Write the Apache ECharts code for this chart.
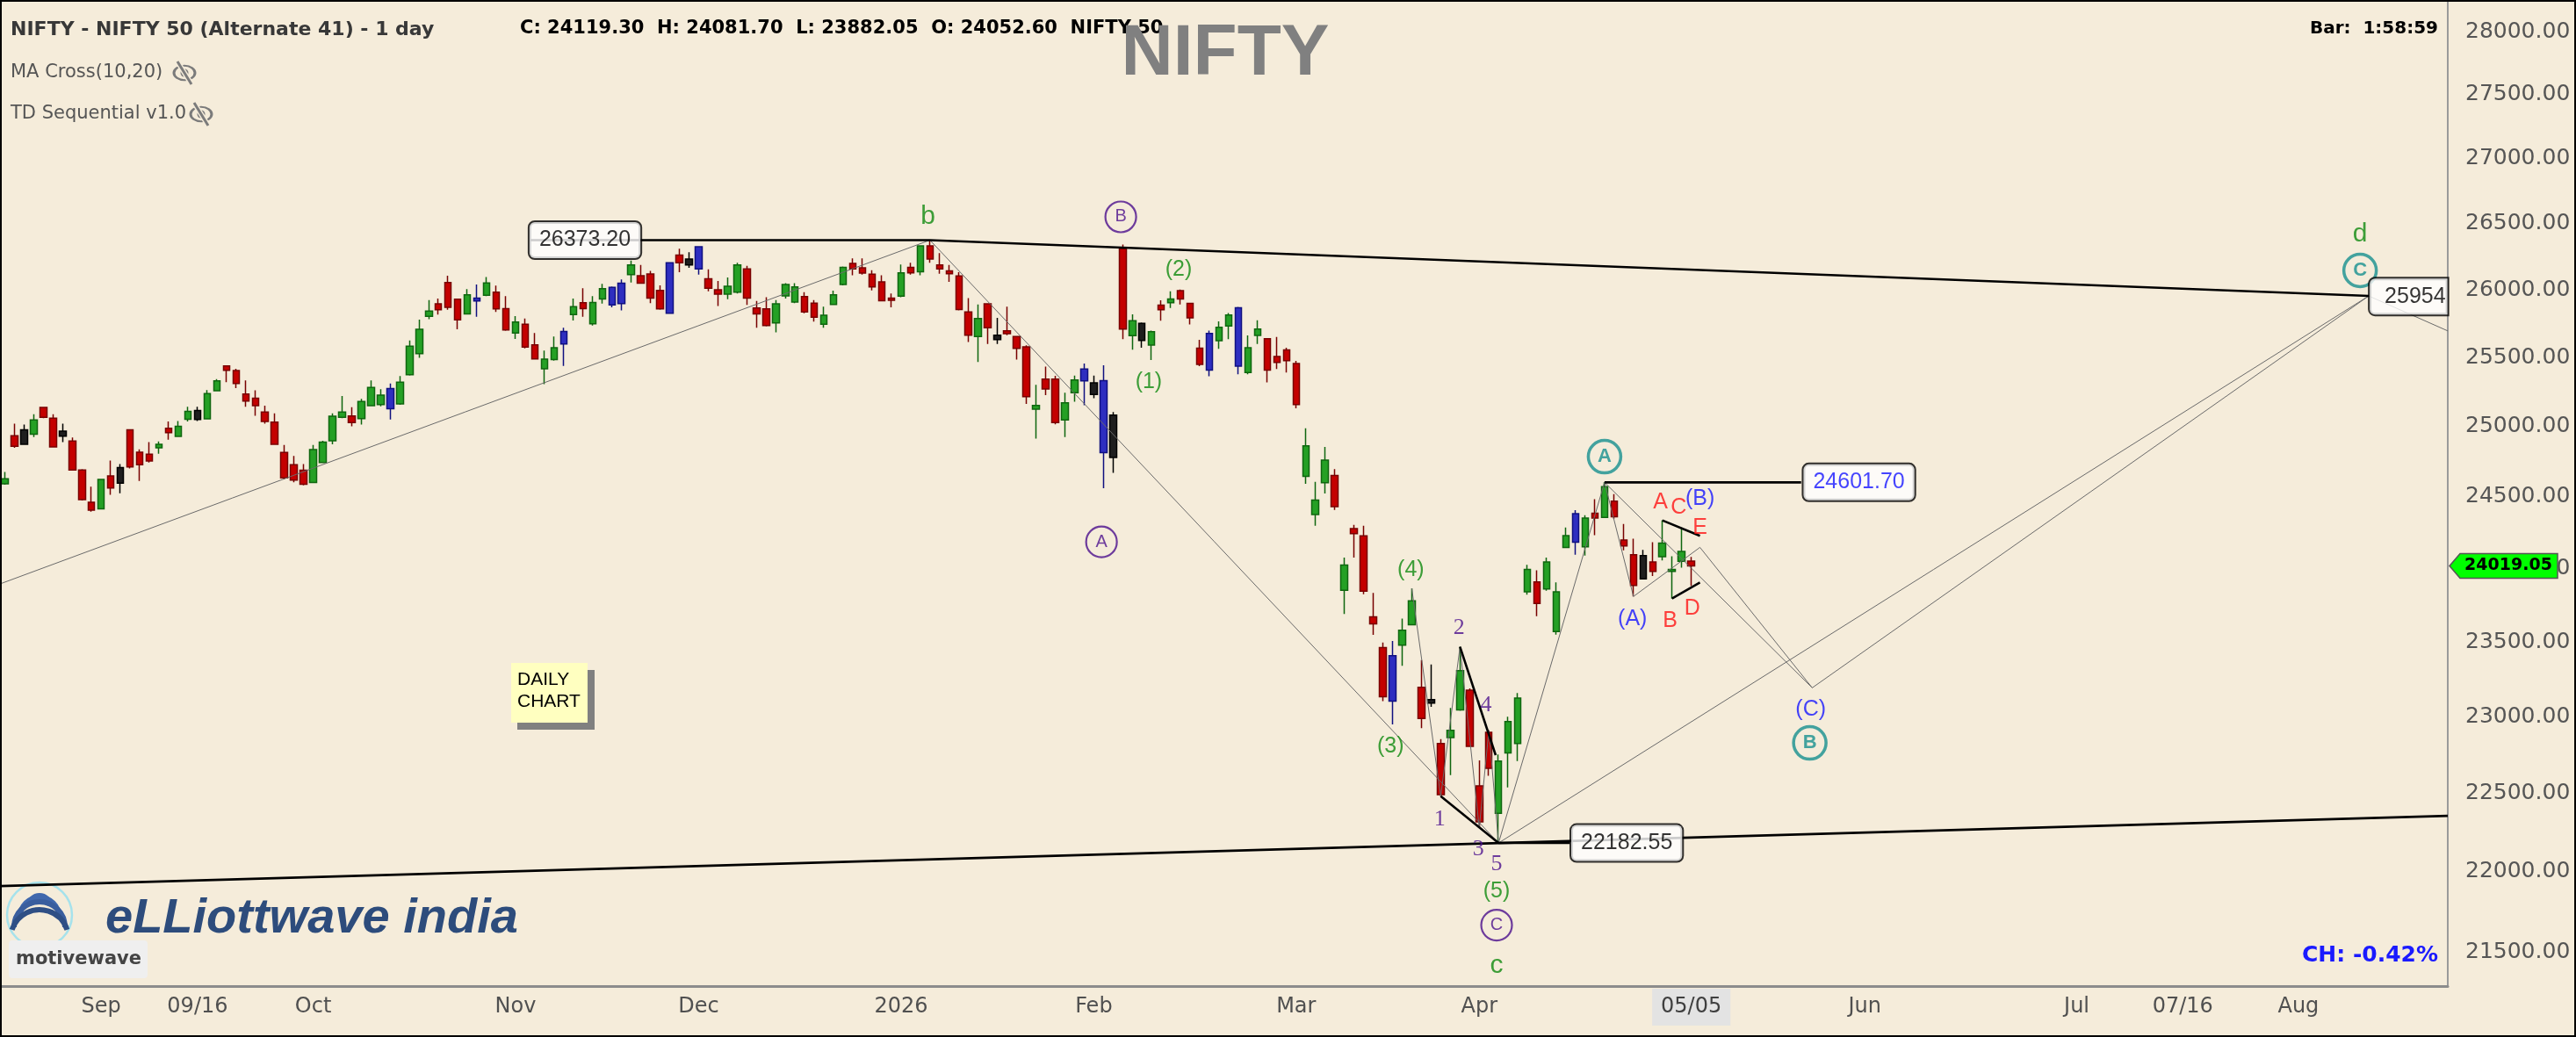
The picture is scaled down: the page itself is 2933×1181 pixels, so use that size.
<!DOCTYPE html>
<html><head><meta charset="utf-8">
<script src="https://cdn.jsdelivr.net/npm/echarts@6/dist/echarts.min.js"></script>
<style>html,body{margin:0;padding:0;background:#f5ecda;}#c{width:2933px;height:1181px;}</style>
</head><body><div id="c"></div>
<script>
// ---------- data ----------
const slotCount = 254;
const xTickLabels = [[10,'Sep'],[20,'09/16'],[32,'Oct'],[53,'Nov'],[72,'Dec'],[93,'2026'],[113,'Feb'],[134,'Mar'],[153,'Apr'],[175,'05/05'],[193,'Jun'],[215,'Jul'],[226,'07/16'],[238,'Aug']];
const yTicks = [21500,22000,22500,23000,23500,24000,24500,25000,25500,26000,26500,27000,27500,28000];
const yRange = [21290, 28241];
const opens = [24591,24934,24976,24945,25137,25060,24966,24895,24690,24462,
24416,24648,24597,24976,24816,24801,24847,24986,24928,25052,
25050,25054,25257,25438,25404,25233,25204,25104,25031,24814,
24726,24688,24601,24742,24897,25065,25075,25056,25149,25158,
25128,25162,25374,25528,25802,25895,26055,25930,25821,25917,
25960,25982,25860,25679,25744,25593,25417,25485,25599,25815,
25904,25747,25932,25887,25897,26113,26105,26118,25995,25826,
26260,26186,26157,26083,26000,25967,25982,26157,25865,25858,
25754,25954,25908,25949,25901,25744,25890,26040,26197,26164,
26116,26060,25938,25952,26168,26135,26330,26186,26142,26103,
25836,25653,25895,25663,25696,25653,25578,25124,25342,25342,
25046,25243,25329,25315,25331,24778,26309,25660,25751,25590,
25886,25904,25994,25899,25568,25408,25623,25732,25867,25390,
25661,25637,25507,25555,25456,24644,24375,24600,24651,23851,
24277,24227,23671,23462,23408,23478,23616,23196,23114,22825,
22864,23047,23177,22549,22898,22373,22764,22825,23841,23909,
23861,23570,24147,24183,24151,24385,24355,24469,24198,24096,
23929,24046,24083,23981,24050,24052.6];
const closes = [24628,24858,24872,25046,25065,24853,24930,24690,24480,24406,
24622,24562,24707,24711,24726,24753,24872,24955,25001,25109,
25115,25236,25329,25406,25310,25183,25149,25035,24872,24634,
24618,24589,24834,24888,25073,25104,25027,25179,25281,25225,
25274,25319,25583,25707,25841,25851,25869,25776,25962,25938,
26051,25858,25702,25761,25576,25489,25487,25571,25691,25874,
25860,25906,26008,26018,26049,26186,26049,25938,25858,26202,
26202,26231,26323,26011,25967,26026,26186,25938,25821,25735,
25895,26040,26022,25836,25796,25811,25962,26168,26157,26125,
26022,25919,25921,26127,26127,26330,26231,26157,26120,25854,
25663,25787,25718,25631,25674,25567,25214,25151,25270,25028,
25170,25336,25416,25230,24812,25081,25709,25770,25625,25689,
25851,25931,25931,25791,25449,25677,25722,25813,25436,25571,
25709,25408,25464,25477,25158,24861,24477,24760,24431,24025,
24242,23846,23623,23134,23105,23580,23779,22989,23091,22492,
22912,23307,22806,22318,22663,22711,22969,23125,23995,23761,
24046,23841,24228,24381,24351,24351,24572,24361,24157,23885,
24090,23981,24177,23995,24119.3,24019.05];
const lows = [24585,24847,24867,24924,25060,24851,24888,24684,24474,24396,
24412,24515,24525,24701,24612,24742,24805,24905,24924,25035,
25039,25052,25255,25319,25276,25141,25077,25020,24867,24622,
24603,24580,24596,24738,24872,25060,25001,25014,25145,25145,
25050,25156,25368,25498,25782,25815,25851,25707,25815,25800,
25952,25836,25696,25636,25567,25485,25306,25476,25438,25772,
25800,25735,25897,25869,25847,26055,26044,25901,25851,25821,
26131,26164,26113,25989,25880,25930,25973,25887,25718,25728,
25685,25934,25901,25826,25763,25718,25887,26033,26109,26113,
25995,25913,25869,25945,26113,26109,26202,26120,26060,25847,
25614,25466,25599,25599,25663,25485,25162,24913,25225,25015,
24924,25178,25152,25204,24561,24669,25635,25557,25571,25481,
25770,25864,25891,25742,25436,25363,25564,25635,25377,25377,
25598,25318,25416,25390,25131,24592,24298,24523,24408,23689,
24077,23825,23548,23105,22950,23340,23612,22926,23066,22482,
22619,23040,22802,22280,22615,22182.55,22539,22711,23821,23675,
23849,23550,24143,24096,24090,24232,24351,24347,24126,23809,
23925,23949,24056,23795,24006,23882.05];
const highs = [24676,25020,25014,25087,25141,25087,25020,24920,24695,24572,
24628,24757,24732,24980,24836,24888,24892,25035,25039,25141,
25141,25263,25342,25443,25417,25332,25261,25149,25094,24867,
24789,24732,24867,24897,25094,25219,25139,25198,25332,25268,
25310,25364,25625,25778,25923,25934,26105,25934,26005,26039,
26096,26031,25952,25804,25787,25679,25550,25653,25718,25934,
26011,25952,26044,26025,26077,26219,26186,26142,26033,26206,
26308,26282,26325,26153,26066,26092,26202,26179,25917,25945,
25923,26049,26049,25982,25923,25874,25993,26175,26236,26236,
26146,26109,25973,26190,26202,26334,26373.2,26275,26186,26131,
25938,25890,25901,25791,25874,25657,25589,25300,25433,25366,
25243,25368,25456,25368,25443,25104,26340,25818,25757,25697,
25921,25989,26002,25904,25629,25697,25765,25827,25872,25661,
25773,25640,25651,25571,25475,24986,24605,24854,24696,24077,
24303,24298,23833,23497,23507,23659,23865,23379,23349,22854,
23060,23468,23189,22715,22912,22753,23002,23158,24026,23989,
24076,23905,24285,24406,24371,24484,24601.7,24519,24309,24208,
24130,24183,24335,24086,24285,24081.7];
const blueBars = [41,50,59,64,65,70,73,113,115,126,129,145,164];
const blackBars = [3,7,13,21,72,104,114,116,119,149,171];
const lastPrice = 24019.05;

// wave / trend lines: [slotIndex, price]
const waveLinesThin = [
  [[-0.5,23895],[96,26373.2]],
  [[96,26373.2],[155,22182.55]],
  [[155,22182.55],[166,24601.7]],
  [[155,22182.55],[245.3,25954]],
  [[166,24601.7],[169,23809],[175.9,24147],[187.55,23193],[245.3,25954]],
  [[166,24601.7],[187.55,23193]],
  [[245.3,25954],[253.5,25695]],
  [[146,23865],[149,22482],[151,23468],[153,22280],[154,22912],[155,22182.55]]
];
const trendLinesThick = [
  [[54.5,26373.2],[96,26373.2],[245.3,25954]],
  [[-0.5,21910],[253.5,22356]],
  [[155,22182.55],[162.4,22182.55]],
  [[166,24601.7],[186.4,24601.7]],
  [[149,22482],[155,22182.55]],
  [[151,23468],[154.7,22749]],
  [[172,24335],[175.9,24227]],
  [[173,23795],[175.9,23905]]
];
const GREEN='#0e8a0e', PURPLE='#4b0f8c', TEAL='#16908e', RED='#ff1414', BLUE='#1515ff';
const waveTexts = [
  ['b',95.8,26550,GREEN,30,'Liberation Sans'],
  ['(2)',121.8,26151,GREEN,25,'Liberation Sans'],
  ['(1)',118.7,25321,GREEN,25,'Liberation Sans'],
  ['(4)',145.9,23991,GREEN,25,'Liberation Sans'],
  ['(3)',143.8,22806,GREEN,25,'Liberation Sans'],
  ['(5)',154.8,21875,GREEN,25,'Liberation Sans'],
  ['c',154.8,21417,GREEN,30,'Liberation Sans'],
  ['d',244.4,26416,GREEN,30,'Liberation Sans'],
  ['1',148.9,22332,PURPLE,26,'Liberation Serif'],
  ['2',150.9,23595,PURPLE,26,'Liberation Serif'],
  ['3',152.9,22141,PURPLE,26,'Liberation Serif'],
  ['4',153.7,23078,PURPLE,26,'Liberation Serif'],
  ['5',154.8,22048,PURPLE,26,'Liberation Serif'],
  ['(A)',168.9,23655,BLUE,25,'Liberation Sans'],
  ['(B)',175.9,24484,BLUE,25,'Liberation Sans'],
  ['(C)',187.4,23048,BLUE,25,'Liberation Sans'],
  ['A',171.8,24463,RED,25,'Liberation Sans'],
  ['C',173.7,24422,RED,25,'Liberation Sans'],
  ['E',175.9,24285,RED,25,'Liberation Sans'],
  ['B',172.8,23641,RED,25,'Liberation Sans'],
  ['D',175.1,23725,RED,25,'Liberation Sans']
];
const circledTexts = [
  ['B',115.8,26550,PURPLE],
  ['A',113.8,24185,PURPLE],
  ['C',154.8,21666,PURPLE],
  ['A',166.0,24784,TEAL],
  ['B',187.3,22829,TEAL],
  ['C',244.4,26145,TEAL]
];
const priceBoxes = [
  ['26373.20',60.2,26373.2,'#000'],
  ['22182.55',168.3,22182.55,'#000'],
  ['24601.70',192.4,24601.7,BLUE]
];
const edgeBox = ['25954',245.4,25950];

// ---------- build ----------
const L = Math.log;
const BG = '#f5ecda';
const categories = Array.from({length: slotCount}, (_, i) => String(i));
const labelMap = {}; xTickLabels.forEach(([i, t]) => { labelMap[i] = t; });

const UP=['#25a025','#0f660f'], DN=['#c40000','#780000'], BL=['#2e2ec0','#101080'], BK=['#1e1e1e','#000000'];
const candleData = opens.map((o, i) => {
  const n = i + 1;
  const v = [o, closes[i], lows[i], highs[i]].map(L);
  let c = null;
  if (blueBars.includes(n)) c = BL; else if (blackBars.includes(n)) c = BK;
  if (c) return {value: v, itemStyle: {color: c[0], color0: c[0], borderColor: c[1], borderColor0: c[1]}};
  return v;
});

function lineSeries(pts, color, width, z) {
  return {type:'line', xAxisIndex:1, yAxisIndex:0, data: pts.map(p => [p[0], L(p[1])]),
    symbol:'none', showSymbol:false, silent:true, z:z, animation:false,
    lineStyle:{color:color, width:width}, emphasis:{disabled:true}};
}

const labelItems = [];
waveTexts.forEach(([t,x,p,c,s,f]) => labelItems.push({value:[x,L(p)], symbolSize:0,
  label:{show:true, position:'inside', formatter:t, color:c, fontSize:s, fontFamily:f}}));
circledTexts.forEach(([t,x,p,c]) => {
  const teal = c === TEAL;
  labelItems.push({value:[x,L(p)], symbol:'circle', symbolSize: teal ? 37 : 35,
    itemStyle:{color:'rgba(0,0,0,0)', borderColor:c, borderWidth: teal ? 3.5 : 2.2},
    label:{show:true, position:'inside', formatter:t, color:c, fontSize: teal ? 22 : 20,
      fontWeight: teal ? 'bold' : 'normal', fontFamily:'Liberation Sans'}});
});
priceBoxes.forEach(([t,x,p,c]) => labelItems.push({value:[x,L(p)], symbolSize:0,
  label:{show:true, position:'inside', formatter:t, color:c, fontSize:25, fontFamily:'Liberation Sans',
    backgroundColor:'#ffffff', borderColor:'#000', borderWidth:2, borderRadius:6, padding:[8,11,8,11]}}));
labelItems.push({value:[edgeBox[1], L(edgeBox[2])], symbolSize:0,
  label:{show:true, position:'right', distance:0, formatter:edgeBox[0], color:'#000', fontSize:25,
    fontFamily:'Liberation Sans', backgroundColor:'#ffffff', borderColor:'#000', borderWidth:2,
    borderRadius:[6,0,0,6], padding:[8,2,8,17]}});

const series = [{
  type:'candlestick', xAxisIndex:0, yAxisIndex:0, data:candleData, barWidth:8, silent:true, z:2,
  itemStyle:{color:UP[0], color0:DN[0], borderColor:UP[1], borderColor0:DN[1], borderWidth:1.5},
  emphasis:{disabled:true}
}];
waveLinesThin.forEach(l => series.push(lineSeries(l, '#6a6a6a', 1, 3)));
trendLinesThick.forEach(l => series.push(lineSeries(l, '#000000', 2.6, 4)));
series.push({type:'scatter', xAxisIndex:1, yAxisIndex:0, data:labelItems, silent:true, z:6,
  clip:false, animation:false, emphasis:{disabled:true}});

function txt(x, y, text, font, fill, align, vAlign) {
  return {type:'text', x:x, y:y, silent:true, z:50, style:{text:text, font:font, fill:fill,
    align:align||'left', verticalAlign:vAlign||'middle', textAlign:align||'left', textVerticalAlign:vAlign||'middle'}};
}
function eye(cx, cy) {
  return {type:'group', x:cx, y:cy, silent:true, z:50, children:[
    {type:'circle', shape:{cx:0, cy:0, r:12}, scaleY:0.68, style:{fill:'none', stroke:'#7b7b7b', lineWidth:3}},
    {type:'circle', shape:{cx:0, cy:0, r:4.5}, style:{fill:'#7b7b7b'}},
    {type:'line', shape:{x1:-8, y1:-13, x2:8, y2:13}, style:{stroke:BG, lineWidth:6}},
    {type:'line', shape:{x1:-8, y1:-13, x2:8, y2:13}, style:{stroke:'#7b7b7b', lineWidth:3}}
  ]};
}
const staticGraphics = [
  txt(12, 34.5, 'NIFTY - NIFTY 50 (Alternate 41) - 1 day', 'bold 22px "DejaVu Sans"', '#383838'),
  txt(592, 33, 'C: 24119.30  H: 24081.70  L: 23882.05  O: 24052.60  NIFTY 50', 'bold 21px "DejaVu Sans"', '#000'),
  txt(1395, 62, 'NIFTY', 'bold 82px "Liberation Sans"', '#808080', 'center'),
  txt(2776, 33, 'Bar:  1:58:59', 'bold 20px "DejaVu Sans"', '#000', 'right'),
  txt(12, 83, 'MA Cross(10,20)', '21px "DejaVu Sans"', '#555'),
  eye(210, 83),
  txt(12, 130, 'TD Sequential v1.0', '21px "DejaVu Sans"', '#555'),
  eye(229, 130),
  {type:'rect', silent:true, z:40, shape:{x:589, y:763, width:88, height:68}, style:{fill:'#808080'}},
  {type:'rect', silent:true, z:41, shape:{x:582, y:755, width:87, height:68}, style:{fill:'#ffffc0'}},
  txt(589, 774, 'DAILY', '21px "Liberation Sans"', '#000'),
  txt(589, 799, 'CHART', '21px "Liberation Sans"', '#000'),
  {type:'group', x:45, y:1042, silent:true, z:40, children:[
    {type:'circle', shape:{cx:0, cy:0, r:37}, style:{fill:'none', stroke:'#a6e2ec', lineWidth:2.5}},
    {type:'arc', shape:{cx:0, cy:-10, r:12, startAngle:Math.PI, endAngle:2*Math.PI}, style:{fill:'none', stroke:'#4068ad', lineWidth:6}},
    {type:'arc', shape:{cx:0, cy:2, r:22, startAngle:Math.PI, endAngle:2*Math.PI}, style:{fill:'none', stroke:'#4068ad', lineWidth:6}},
    {type:'arc', shape:{cx:0, cy:14, r:29, startAngle:Math.PI, endAngle:2*Math.PI}, style:{fill:'none', stroke:'#3a5e9e', lineWidth:6}},
    {type:'arc', shape:{cx:0, cy:27, r:33, startAngle:1.1*Math.PI, endAngle:1.9*Math.PI}, style:{fill:'none', stroke:'#2f4f85', lineWidth:6}}
  ]},
  txt(120, 1047, 'eLLiottwave india', 'italic bold 56px "Liberation Sans"', '#2d4c7c'),
  {type:'rect', silent:true, z:45, shape:{x:10, y:1071, width:158, height:43, r:4}, style:{fill:'#efefef'}},
  txt(18, 1093, 'motivewave', 'bold 21px "DejaVu Sans"', '#444'),
  txt(2776, 1088, 'CH: -0.42%', 'bold 25px "DejaVu Sans"', '#1a1aff', 'right'),
  {type:'rect', silent:true, z:100, shape:{x:1, y:1, width:2931, height:1179}, style:{fill:'none', stroke:'#000', lineWidth:2}}
];

const option = {
  backgroundColor: BG,
  animation: false,
  textStyle: {fontFamily: 'Liberation Sans'},
  grid: {left:0, top:2, width:2787, height:1121, containLabel:false},
  xAxis: [
    {type:'category', data:categories, boundaryGap:true, position:'bottom',
      axisLine:{show:true, onZero:false, lineStyle:{color:'#8c8c8c', width:3}},
      axisTick:{show:false}, splitLine:{show:false},
      axisLabel:{interval:(i) => labelMap[i] !== undefined, margin:3,
        formatter:(v, i) => labelMap[i] === undefined ? '' : (labelMap[i] === '05/05' ? '{hl|05/05}' : '{n|' + labelMap[i] + '}'),
        rich:{
          n:{fontFamily:'DejaVu Sans', fontSize:24, color:'#505050', padding:[9,10,9,10]},
          hl:{fontFamily:'DejaVu Sans', fontSize:24, color:'#404040', padding:[9,10,9,10], backgroundColor:'#e3e3e3'}
        }}},
    {type:'value', min:-0.5, max:slotCount - 0.5, show:false}
  ],
  yAxis: {type:'value', position:'right', min:L(yRange[0]), max:L(yRange[1]),
    axisLine:{show:true, onZero:false, lineStyle:{color:'#9a9a9a', width:2}},
    axisTick:{show:false}, splitLine:{show:false},
    axisLabel:{customValues:yTicks.map(L), margin:20, fontFamily:'DejaVu Sans', fontSize:25, color:'#555',
      formatter:(v) => (Math.round(Math.exp(v) / 10) * 10).toFixed(2)}},
  series: series,
  graphic: staticGraphics
};

const chart = echarts.init(document.getElementById('c'), null, {width:2933, height:1181});
chart.setOption(option);
const yPix = chart.convertToPixel({yAxisIndex:0}, L(lastPrice));
const tag = [
  {type:'polygon', silent:true, z:60, shape:{points:[[2789,yPix],[2801,yPix-14],[2912,yPix-14],[2912,yPix+14],[2801,yPix+14]]},
    style:{fill:'#00ff00', stroke:'#555', lineWidth:1.5}},
  txt(2856, yPix, lastPrice.toFixed(2), 'bold 19px "DejaVu Sans"', '#000', 'center')
];
tag[1].z = 61;
chart.setOption({graphic: staticGraphics.concat(tag)});
</script></body></html>
